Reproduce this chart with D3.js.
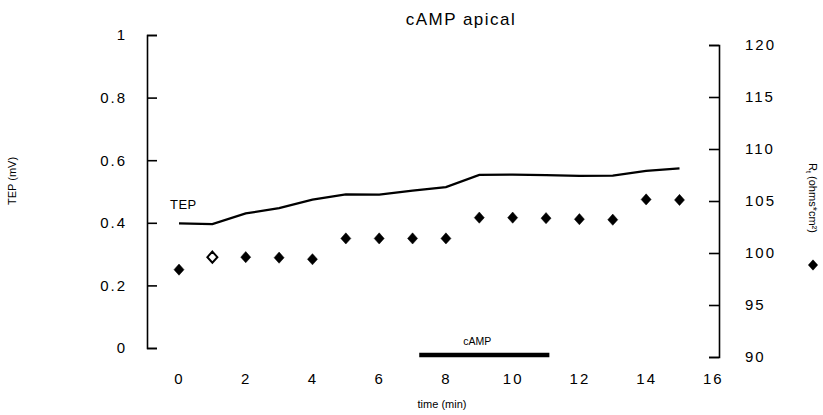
<!DOCTYPE html>
<html>
<head>
<meta charset="utf-8">
<script src="https://cdn.jsdelivr.net/npm/d3@7"></script>
<style>
  body { margin: 0; background: #fff; }
  svg { display: block; font-family: "Liberation Sans", Arial, Helvetica, sans-serif; }
</style>
</head>
<body>
<svg id="chart" width="823" height="415"></svg>
<script>
// ---- data ----
const times = [0, 1, 2, 3, 4, 5, 6, 7, 8, 9, 10, 11, 12, 13, 14, 15];
const tep = [0.398, 0.396, 0.43, 0.447, 0.474, 0.491, 0.49, 0.503, 0.514, 0.553, 0.554, 0.552, 0.55, 0.551, 0.566, 0.574];
const rt = [98.4, 99.6, 99.6, 99.55, 99.4, 101.4, 101.4, 101.4, 101.4, 103.4, 103.4, 103.35, 103.25, 103.2, 105.15, 105.1];
const xTicks = [0, 2, 4, 6, 8, 10, 12, 14, 16];
const leftTicks = [0, 0.2, 0.4, 0.6, 0.8, 1];
const rightTicks = [90, 95, 100, 105, 110, 115, 120];
const camp = { label: "cAMP", start: 7.2, end: 11.1 };

const svg = d3.select("#chart");

const x = d3.scaleLinear().domain([0, 15]).range([179, 679.5]);
const yL = d3.scaleLinear().domain([0, 1]).range([348, 35]);
const yR = d3.scaleLinear().domain([90, 120]).range([357, 45]);

const leftX = 147, rightX = 719;

// Left axis (ticks inward)
const gL = svg.append("g").attr("transform", `translate(${leftX},0)`)
  .call(d3.axisLeft(yL).tickValues(leftTicks).tickSize(-10).tickSizeOuter(-10).tickPadding(20)
    .tickFormat(d => String(+d.toFixed(1))));
// Right axis (ticks inward)
const gR = svg.append("g").attr("transform", `translate(${rightX},0)`)
  .call(d3.axisRight(yR).tickValues(rightTicks).tickSize(-10).tickSizeOuter(-10).tickPadding(26)
    .tickFormat(d3.format("d")));
// Bottom axis: labels only
const gB = svg.append("g").attr("transform", `translate(0,366)`)
  .call(d3.axisBottom(x).tickValues(xTicks).tickSize(0).tickPadding(4).tickFormat(d3.format("d")));
gB.select(".domain").remove();

[gL, gR, gB].forEach(g => {
  g.selectAll("path, line").attr("stroke", "#000").attr("stroke-width", 1.6);
  g.selectAll("text").attr("fill", "#000").style("font-size", "15px").style("letter-spacing", "2px")
    .style("font-family", "'Liberation Sans', Arial, sans-serif");
});
gB.selectAll("text").attr("dy", "0.9em");

// TEP line
const line = d3.line().x((d, i) => x(times[i])).y(d => yL(d)).curve(d3.curveLinear);
svg.append("path").datum(tep)
  .attr("d", line).attr("fill", "none").attr("stroke", "#000").attr("stroke-width", 2.2);

// Rt diamonds (slightly taller than wide, like the original)
const diamondType = {
  draw(ctx, size) {
    const w = 5, h = 5.6;
    ctx.moveTo(0, -h); ctx.lineTo(w, 0); ctx.lineTo(0, h); ctx.lineTo(-w, 0); ctx.closePath();
  }
};
const diamond = d3.symbol().type(diamondType).size(64);
svg.append("g").selectAll("path").data(rt).join("path")
  .attr("transform", (d, i) => `translate(${x(times[i])},${yR(d)})`)
  .attr("d", diamond)
  .attr("fill", (d, i) => i === 1 ? "#fff" : "#000")
  .attr("stroke", "#000").attr("stroke-width", (d, i) => i === 1 ? 2 : 0.5);

// TEP series label
svg.append("text").attr("x", x(0) - 9).attr("y", 209)
  .style("font-size", "13px").style("letter-spacing", "0.5px").text("TEP");

// Title
svg.append("text").attr("x", 461).attr("y", 25).attr("text-anchor", "middle")
  .style("font-size", "17px").style("letter-spacing", "1.5px").style("font-weight", "500")
  .text("cAMP  apical");

// Left axis title
svg.append("text").attr("transform", "translate(16,181) rotate(-90)").attr("text-anchor", "middle")
  .style("font-size", "11px").text("TEP (mV)");

// Right axis title
const rtLab = svg.append("text").attr("transform", "translate(809,198) rotate(90)").attr("text-anchor", "middle")
  .style("font-size", "11px");
rtLab.append("tspan").text("R");
rtLab.append("tspan").attr("dy", 3).style("font-size", "7px").text("t");
rtLab.append("tspan").attr("dy", -3).text(" (ohms*cm²)");

// Legend diamond
svg.append("path").attr("transform", "translate(813,265)").attr("d", diamond).attr("fill", "#000");

// cAMP bar
svg.append("line").attr("x1", x(camp.start)).attr("x2", x(camp.end)).attr("y1", 355).attr("y2", 355)
  .attr("stroke", "#000").attr("stroke-width", 4.5);
svg.append("text").attr("x", (x(camp.start) + x(camp.end)) / 2 - 7).attr("y", 345).attr("text-anchor", "middle")
  .style("font-size", "10.5px").text(camp.label);

// X axis title
svg.append("text").attr("x", 442).attr("y", 408).attr("text-anchor", "middle")
  .style("font-size", "11px").text("time (min)");
</script>
</body>
</html>
